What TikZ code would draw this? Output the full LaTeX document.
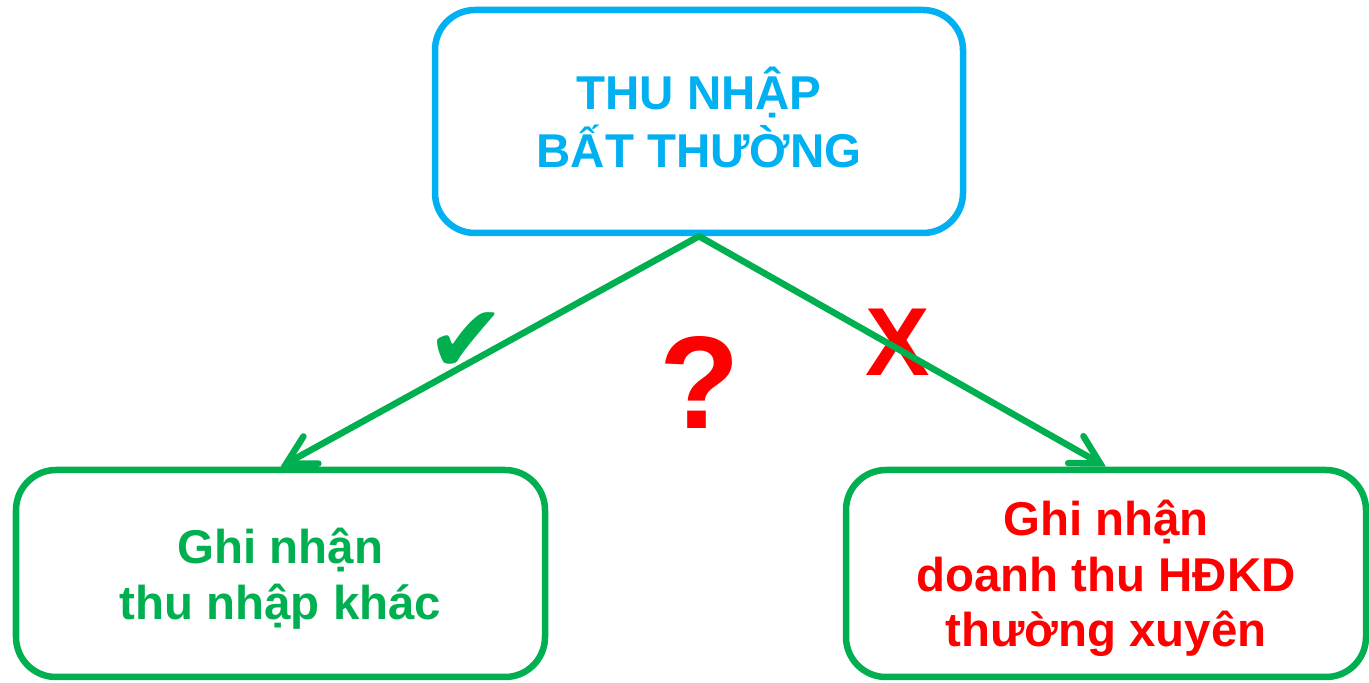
\documentclass[tikz,border=0pt]{standalone}
\usepackage{fontspec}
\setmainfont{Liberation Sans}
\newfontfamily\symbolfont{DejaVu Sans}
\usetikzlibrary{arrows.meta}
\definecolor{skyblue}{HTML}{00B0F0}
\definecolor{leafgreen}{HTML}{00B050}
\definecolor{alarmred}{HTML}{FF0000}
\tikzset{
  chart/.style={
	line width=0.13cm, % thick outlines and arrows
	every node/.style={align=center, inner sep=0pt}, % centred text in every node
  },
  box/.style={draw, rounded corners=0.8cm, minimum height=4.14cm}, % rounded boxes
  boxtext/.style={font=\fontsize{27}{31.6}\selectfont\bfseries}, % text inside a box
  branch/.style={draw=leafgreen, line cap=round, % arrow from the top box
	-{Straight Barb[length=0.56cm, width=0.62cm, line cap=round]}},
}

\begin{document}
\begin{tikzpicture}[chart]
	  \useasboundingbox (0,0) rectangle (27.38,-13.66);
	  \node[box, draw=skyblue, minimum width=10.56cm, minimum height=4.46cm] (income) at (13.98,-2.43) {};
	  \node[box, draw=leafgreen, minimum width=10.58cm] (other) at (5.61,-11.47) {};
	  \node[box, draw=leafgreen, minimum width=10.40cm] (revenue) at (22.12,-11.47) {};
	  \node[boxtext, text=skyblue, font=\fontsize{27}{32.6}\selectfont\bfseries] (incometext) at ([yshift=0.08cm]income.center) {THU NHẬP\\BẤT THƯỜNG};
	  \node[boxtext, text=leafgreen] (othertext) at ([yshift=-0.1cm]other.center) {Ghi nhận\\thu nhập khác};
	  \node[boxtext, text=alarmred] (revenuetext) at ([yshift=-0.1cm]revenue.center) {Ghi nhận\\doanh thu HĐKD\\thường xuyên};
	  \node[text=leafgreen, font=\symbolfont\fontsize{54}{54}\selectfont] (yes) at (9.32,-6.86) {✔};
	  \node[text=alarmred, font=\fontsize{55}{55}\selectfont\bfseries] (no) at (17.95,-6.84) {X};
	  \node[text=alarmred, font=\fontsize{75}{75}\selectfont\bfseries] (ask) at (13.99,-7.64) {?};
	  \draw   (income.south) edge[branch] (other.north)
		  (income.south) edge[branch] (revenue.north)
	  ;
\end{tikzpicture}
\end{document}
